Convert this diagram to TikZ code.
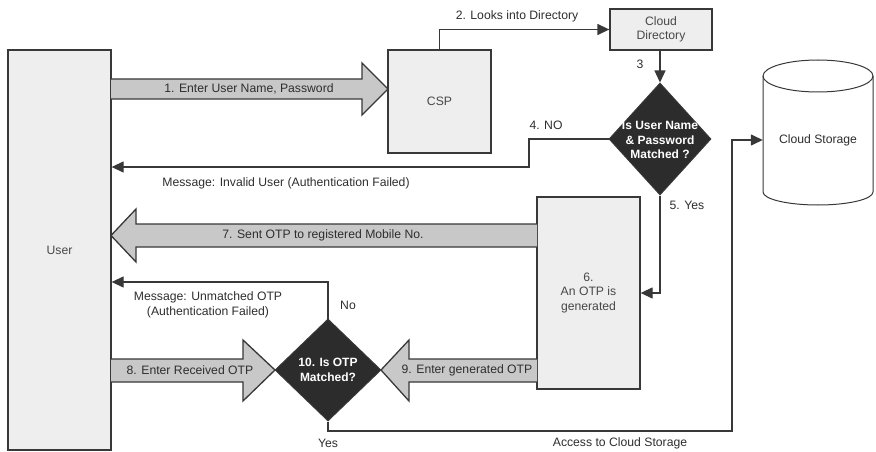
\documentclass[tikz,border=0pt]{standalone}
\usepackage{fontspec}
\setmainfont{Liberation Sans}
\usetikzlibrary{arrows.meta,shapes.geometric,calc}
\definecolor{ln}{HTML}{383838}
\definecolor{tx}{HTML}{2E2E2E}
\definecolor{btx}{HTML}{484848}
\definecolor{boxfill}{HTML}{EEEEEE}
\definecolor{arrfill}{HTML}{C8C8C8}
\definecolor{dia}{HTML}{2C2C2C}
\begin{document}
\begin{tikzpicture}[x=1pt,y=-1pt,
  every node/.style={font=\fontsize{12.2}{14.5}\selectfont,text=tx},
  boxnode/.style={draw=ln,fill=boxfill,line width=1.3pt,inner sep=0pt,align=center,text=btx},
  dianode/.style={diamond,draw=ln,fill=dia,line width=1pt,inner sep=0pt},
  diatext/.style={font=\fontsize{12}{14.5}\selectfont\bfseries,text=white,align=center},
  conn/.style={draw=ln,line width=1.3pt,-{Triangle[length=12pt,width=11pt]}},
  block/.style={draw=ln,fill=arrfill,line width=1.3pt,line join=miter},
  lbl/.style={inner sep=0pt,align=center}]
\useasboundingbox (0,0) rectangle (876,452);
% nodes
\node[boxnode,minimum width=103pt,minimum height=400pt] (user) at (59.5,250) {User};
\node[boxnode,minimum width=103pt,minimum height=103pt] (csp) at (439.5,101.5) {CSP};
\node[boxnode,minimum width=102pt,minimum height=41pt] (cdir) at (661,29.5) {Cloud\\Directory};
\node[dianode,minimum width=102pt,minimum height=112pt] (d1) at (660,139) {};
\node[diatext] (d1t) at (660,140) {Is User Name\\\& Password\\Matched ?};
\node[boxnode,minimum width=103pt,minimum height=192pt] (otp) at (588.5,293) {6.\\An OTP is\\generated};
\node[dianode,minimum width=106pt,minimum height=102pt] (d2) at (328,370) {};
\node[diatext] (d2t) at (328,370) {10. Is OTP\\Matched?};
% cylinder
\draw[ln,fill=white,line width=1pt] (763,76) -- (763,192) arc[start angle=180,end angle=360,x radius=55pt,y radius=13pt] -- (873,76) arc[start angle=0,end angle=180,x radius=55pt,y radius=16pt] -- cycle;
\draw[ln,line width=1pt] (763,76) arc[start angle=180,end angle=360,x radius=55pt,y radius=16pt];
\node[lbl,minimum width=110pt,minimum height=145pt] (storage) at (818,140) {Cloud Storage};
% block arrows
\draw[block] (111,79) -- (362,79) -- (362,63) -- (388,89) -- (362,115) -- (362,99) -- (111,99);
\draw[block] (537,224) -- (136,224) -- (136,209) -- (111,235.5) -- (136,262) -- (136,247) -- (537,247);
\draw[block] (111,359) -- (243,359) -- (243,340) -- (275,370) -- (243,401) -- (243,382) -- (111,382);
\draw[block] (537,359) -- (409,359) -- (409,340) -- (381,370) -- (409,401) -- (409,382) -- (537,382);
% connectors
\draw[conn] (csp.north) |- (cdir.west);
\draw[conn] (d1.north |- cdir.south) -- (d1.north);
\coordinate (n4) at (529,167);
\draw[conn] (d1.west) -| (n4) -- (n4 -| user.east);
\draw[conn] (d1.south) |- (otp.east);
\coordinate (nno) at (328,282);
\draw[conn] (d2.north) -- (nno) -- (nno -| user.east);
\coordinate (ya) at (732,431);
\draw[conn] (d2.south) |- (ya) |- (storage.west);
% labels
\node[lbl] (l1) at (249,89) {1. Enter User Name, Password};
\node[lbl] (l2) at (517,16) {2. Looks into Directory};
\node[lbl] (l3) at (640,64) {3};
\node[lbl] (l4) at (546,125) {4. NO};
\node[lbl] (l4m) at (286,183) {Message: Invalid User (Authentication Failed)};
\node[lbl] (l5) at (687,205) {5. Yes};
\node[lbl] (l7) at (323,235.5) {7. Sent OTP to registered Mobile No.};
\node[lbl] (lm2) at (208,305) {Message: Unmatched OTP\\(Authentication Failed)};
\node[lbl] (lno) at (348,305) {No};
\node[lbl] (l8) at (190,370) {8. Enter Received OTP};
\node[lbl] (l9) at (467,370) {9. Enter generated OTP};
\node[lbl] (lyes) at (328,443) {Yes};
\node[lbl] (lacc) at (620,443) {Access to Cloud Storage};
\end{tikzpicture}
\end{document}
